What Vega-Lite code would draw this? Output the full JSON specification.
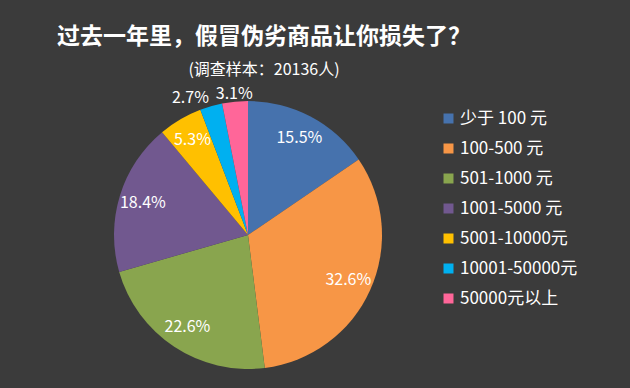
{
  "$schema": "https://vega.github.io/schema/vega-lite/v6.json",
  "width": 290,
  "height": 290,
  "autosize": {"type": "none"},
  "padding": {"left": 103, "top": 90, "right": 237, "bottom": 8},
  "background": "#3b3b3b",
  "config": {"view": {"stroke": null}, "font": "Noto Sans CJK SC"},
  "title": {
    "text": "过去一年里，假冒伪劣商品让你损失了？",
    "subtitle": "(调查样本：20136人)",
    "anchor": "middle",
    "frame": "group",
    "dx": 16,
    "offset": 8,
    "color": "#ffffff",
    "fontSize": 23,
    "fontWeight": "bold",
    "font": "Noto Sans CJK SC",
    "subtitleColor": "#ffffff",
    "subtitleFontSize": 16,
    "subtitleFont": "Noto Sans CJK SC",
    "subtitlePadding": 13
  },
  "data": {
    "values": [
      {"idx": 1, "cat": "少于 100 元", "pct": 15.5},
      {"idx": 2, "cat": "100-500 元", "pct": 32.6},
      {"idx": 3, "cat": "501-1000 元", "pct": 22.6},
      {"idx": 4, "cat": "1001-5000 元", "pct": 18.4},
      {"idx": 5, "cat": "5001-10000元", "pct": 5.3},
      {"idx": 6, "cat": "10001-50000元", "pct": 2.7},
      {"idx": 7, "cat": "50000元以上", "pct": 3.1}
    ]
  },
  "encoding": {
    "theta": {"field": "pct", "type": "quantitative", "stack": true},
    "order": {"field": "idx", "type": "quantitative"}
  },
  "layer": [
    {
      "mark": {"type": "arc", "outerRadius": 134},
      "encoding": {
        "color": {
          "field": "cat",
          "type": "nominal",
          "sort": ["少于 100 元", "100-500 元", "501-1000 元", "1001-5000 元", "5001-10000元", "10001-50000元", "50000元以上"],
          "scale": {
            "domain": ["少于 100 元", "100-500 元", "501-1000 元", "1001-5000 元", "5001-10000元", "10001-50000元", "50000元以上"],
            "range": ["#4672ad", "#f79646", "#89a54e", "#71588f", "#ffc000", "#00b0f0", "#ff6699"]
          },
          "legend": {
            "title": null,
            "orient": "none",
            "legendX": 337,
            "legendY": 20,
            "symbolType": "square",
            "symbolSize": 100,
            "symbolStrokeWidth": 0,
            "labelColor": "#ffffff",
            "labelFontSize": 17,
            "labelFont": "Noto Sans CJK SC",
            "labelOffset": 3,
            "rowPadding": 12,
            "labelLimit": 200
          }
        }
      }
    },
    {
      "mark": {
        "type": "text",
        "radius": {"expr": "datum.pct < 4 ? 142 : 110"},
        "align": {"expr": "datum.pct < 3 ? 'right' : 'center'"},
        "fontSize": 16,
        "color": "#ffffff",
        "font": "Noto Sans CJK SC",
        "text": {"expr": "format(datum.pct, '.1f') + '%'"}
      }
    }
  ]
}
